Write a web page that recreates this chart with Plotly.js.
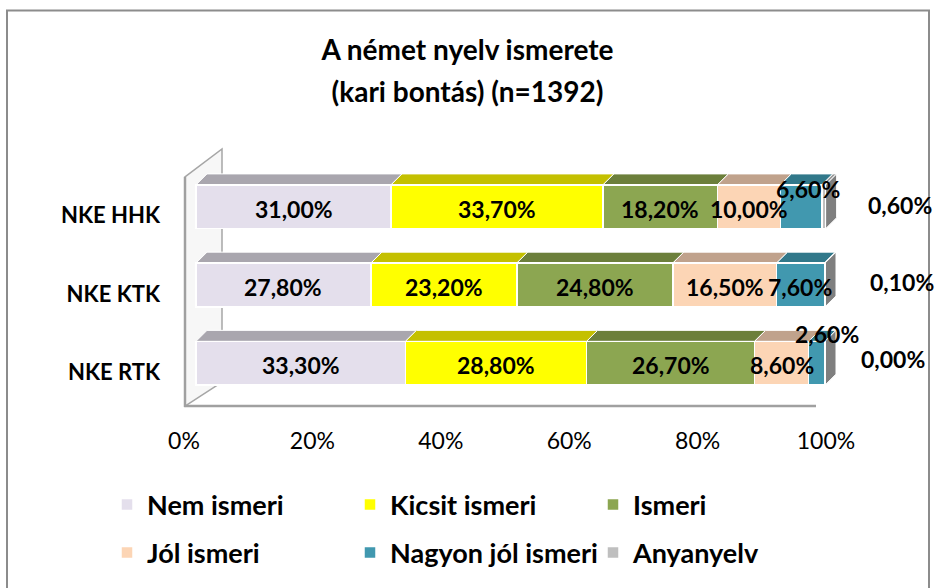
<!DOCTYPE html>
<html>
<head>
<meta charset="utf-8">
<script src="https://cdn.plot.ly/plotly-3.0.1.min.js"></script>
<style>html,body{margin:0;padding:0;background:#fff;}#chart{width:935px;height:588px;}</style>
</head>
<body>
<div id="chart"></div>
<script>
// ---- data ----
const categories = ['NKE HHK', 'NKE KTK', 'NKE RTK'];
const seriesNames = ['Nem ismeri', 'Kicsit ismeri', 'Ismeri', 'Jól ismeri', 'Nagyon jól ismeri', 'Anyanyelv'];
const nemIsmeri = [31.0, 27.8, 33.3];
const kicsitIsmeri = [33.7, 23.2, 28.8];
const ismeri = [18.2, 24.8, 26.7];
const jolIsmeri = [10.0, 16.5, 8.6];
const nagyonJolIsmeri = [6.6, 7.6, 2.6];
const anyanyelv = [0.6, 0.1, 0.0];
const tickValues = [0, 20, 40, 60, 80, 100];
const tickLabels = ['0%', '20%', '40%', '60%', '80%', '100%'];
const titleLines = ['A német nyelv ismerete', '(kari bontás) (n=1392)'];

// ---- styles / geometry ----
const seriesValues = [nemIsmeri, kicsitIsmeri, ismeri, jolIsmeri, nagyonJolIsmeri, anyanyelv];
const frontColors = ['#E4DFEC', '#FFFF00', '#8CA651', '#FCD5B5', '#4198AF', '#BFBFBF'];
const topColors = ['#A9A6AE', '#C4C000', '#6C7F3B', '#C0A28C', '#31788A', '#9A9A9A'];
const sideColor = '#7F7F7F';
const FONT = 'Lato, "Open Sans", sans-serif';

const W = 935, H = 588;
const PL = 170, PR = 860, PT = 140, PB = 420;     // plot area in px
const xRange = [-4.134, 105.564];
const yRange = [2.713, -0.8535];                   // reversed: first category on top
const pxPerX = (PR - PL) / (xRange[1] - xRange[0]);
const pxPerY = (PB - PT) / (yRange[0] - yRange[1]);
const barW = 0.56;
const depthPx = 11;
const dxU = depthPx / pxPerX, dyU = depthPx / pxPerY;
const fx = px => (px - PL) / (PR - PL);
const fy = py => (PB - py) / (PB - PT);

// label offsets (px) for labels Excel moved away from their segment
const labelOffsets = {
  '4|0': [7, 20], '5|0': [76, 4],
  '5|1': [77, 5],
  '4|2': [10, 31], '5|2': [68, 6]
};

const yIdx = categories.map((c, i) => i);
const traces = seriesNames.map((name, s) => ({
  type: 'bar', orientation: 'h', name: name,
  x: seriesValues[s], y: yIdx, width: barW,
  marker: {color: frontColors[s], line: {color: '#FFFFFF', width: 1.5}},
  legend: s < 3 ? 'legend' : 'legend2',
  hoverinfo: 'skip', textposition: 'none'
}));
// carrier for the visible percentage axis
traces.push({type: 'scatter', x: [tickValues[0], tickValues[tickValues.length - 1]], y: [0, 0],
  xaxis: 'x2', yaxis: 'y', mode: 'markers', marker: {opacity: 0}, showlegend: false, hoverinfo: 'skip'});

const shapes = [];
// outer chart border
shapes.push({type: 'rect', xref: 'paper', yref: 'paper', x0: fx(7), x1: fx(929), y0: fy(10), y1: fy(640),
  line: {color: '#8C8C8C', width: 2}, fillcolor: 'rgba(0,0,0,0)', layer: 'below'});
// side wall and floor
shapes.push({type: 'path', xref: 'paper', yref: 'paper', layer: 'below',
  path: `M ${fx(185)},${fy(177)} L ${fx(222)},${fy(149)} L ${fx(222)},${fy(383)} L ${fx(185)},${fy(407)} Z`,
  fillcolor: '#F7F7F7', line: {color: '#A6A6A6', width: 1.5}});
shapes.push({type: 'line', xref: 'paper', yref: 'paper', layer: 'below',
  x0: fx(185), x1: fx(185), y0: fy(177), y1: fy(408), line: {color: '#A0A0A0', width: 2.5}});
shapes.push({type: 'line', xref: 'paper', yref: 'paper', layer: 'below',
  x0: fx(185), x1: fx(816), y0: fy(407), y1: fy(407), line: {color: '#A0A0A0', width: 2.5}});

const annotations = [];
categories.forEach((cat, i) => {
  let cum = 0;
  const yt = i - barW / 2, yb = i + barW / 2;
  seriesValues.forEach((vals, s) => {
    const v = vals[i];
    const x0 = cum, x1 = cum + v;
    if (v > 0) {
      shapes.push({type: 'path', xref: 'x', yref: 'y', layer: 'below',
        path: `M ${x0},${yt} L ${x1},${yt} L ${x1 + dxU},${yt - dyU} L ${x0 + dxU},${yt - dyU} Z`,
        fillcolor: topColors[s], line: {color: '#FFFFFF', width: 1}});
    }
    const off = labelOffsets[s + '|' + i] || [0, 0];
    annotations.push({xref: 'x', yref: 'y', x: (x0 + x1) / 2, y: i,
      text: v.toFixed(2).replace('.', ',') + '%', showarrow: false,
      xshift: off[0], yshift: off[1] - 2,
      font: {family: FONT, size: 23, color: '#000000', weight: 'bold'}});
    cum = x1;
  });
  shapes.push({type: 'path', xref: 'x', yref: 'y', layer: 'below',
    path: `M ${cum},${yt} L ${cum + dxU},${yt - dyU} L ${cum + dxU},${yb - dyU} L ${cum},${yb} Z`,
    fillcolor: sideColor, line: {color: '#FFFFFF', width: 1}});
});

const legendCommon = {orientation: 'h', xref: 'paper', yref: 'paper', xanchor: 'left', yanchor: 'middle',
  entrywidth: 198, entrywidthmode: 'pixels', bgcolor: 'rgba(0,0,0,0)', borderwidth: 0,
  font: {family: FONT, size: 27, color: '#000000', weight: 'bold'}, traceorder: 'normal'};

const titleText = titleLines.map(t => '<span style="font-size:28px">' + t + '</span>').join('<br>');

const layout = {
  width: W, height: H,
  margin: {l: PL, r: W - PR, t: PT, b: H - PB, pad: 0},
  paper_bgcolor: '#FFFFFF', plot_bgcolor: 'rgba(0,0,0,0)',
  barmode: 'stack', bargap: 0,
  showlegend: true,
  title: {text: titleText,
    x: 0.5, xanchor: 'center', xref: 'container', y: 1 - 59.5 / H, yanchor: 'middle', yref: 'container',
    font: {family: FONT, size: 33, color: '#000000', weight: 'bold'}},
  xaxis: {range: xRange, visible: false, fixedrange: true},
  xaxis2: {domain: [fx(184), fx(826)], range: [0, 100], anchor: 'y', tickvals: tickValues, ticktext: tickLabels,
    showgrid: false, zeroline: false, showline: false, ticks: '', ticklabelstandoff: 6,
    tickfont: {family: FONT, size: 23, color: '#000000'}},
  yaxis: {range: yRange, tickvals: yIdx, ticktext: categories, showgrid: false, zeroline: false, showline: false,
    ticks: '', ticklabelstandoff: 9, ticklabelshift: -9,
    tickfont: {family: FONT, size: 22, color: '#000000', weight: 'bold'}},
  legend: Object.assign({}, legendCommon, {x: fx(107), y: fy(505)}),
  legend2: Object.assign({}, legendCommon, {x: fx(107), y: fy(553)}),
  shapes: shapes,
  annotations: annotations
};

Plotly.newPlot('chart', traces, layout, {displayModeBar: false, staticPlot: true});
</script>
</body>
</html>
